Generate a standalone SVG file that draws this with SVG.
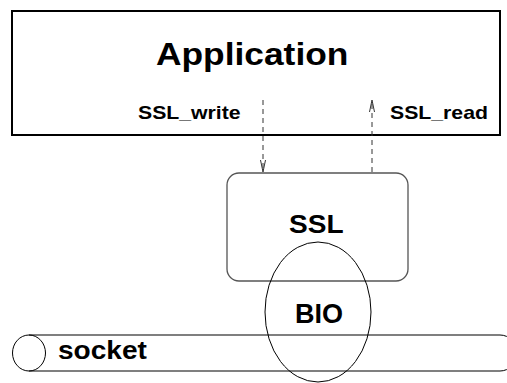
<svg xmlns="http://www.w3.org/2000/svg" width="507" height="383" viewBox="0 0 507 383">
  <defs>
    <style>
      text { font-family: "Liberation Sans", Arial, sans-serif; font-weight: bold; fill: #000; }
      .box { fill: none; stroke: #000; stroke-width: 2; }
      .thin { fill: none; stroke: #555; stroke-width: 1.3; }
      .outline { fill: none; stroke: #000; stroke-width: 1; }
      .flow { fill: none; stroke: #333; stroke-width: 1; stroke-dasharray: 5 4; }
      .head { fill: none; stroke: #333; stroke-width: 1; }
    </style>
  </defs>

  <!-- Application layer -->
  <g id="application">
    <rect class="box" x="12" y="11" width="488" height="124"/>
    <text transform="translate(156 65) scale(1.14 1)" font-size="31">Application</text>
    <text transform="translate(138 119) scale(1.18 1)" font-size="18">SSL_write</text>
    <text transform="translate(390 119) scale(1.18 1)" font-size="18">SSL_read</text>
  </g>

  <!-- SSL layer -->
  <g id="ssl">
    <rect class="thin" x="227" y="173" width="181" height="108" rx="12" ry="12"/>
    <text transform="translate(289 233) scale(1.1 1)" font-size="25.5">SSL</text>
  </g>

  <!-- socket pipe -->
  <g id="socket">
    <line class="thin" x1="29" y1="335" x2="500" y2="335"/>
    <line class="thin" x1="29" y1="371" x2="500" y2="371"/>
    <path class="outline" d="M500 335 A17 18 0 0 1 500 371"/>
    <ellipse class="outline" cx="29" cy="353" rx="16.5" ry="18" fill="#fff"/>
    <text transform="translate(58 359) scale(1.08 1)" font-size="26">socket</text>
  </g>

  <!-- BIO -->
  <g id="bio">
    <ellipse class="outline" cx="318" cy="312" rx="53" ry="70"/>
    <text transform="translate(295 323) scale(1.0 1)" font-size="27">BIO</text>
  </g>

  <!-- data flow -->
  <g id="connectors">
    <line class="flow" x1="263" y1="100" x2="263" y2="171"/>
    <path class="head" d="M260.5 160 L263 172 L265.5 160"/>
    <line class="flow" x1="372" y1="172" x2="372" y2="102"/>
    <path class="head" d="M369.5 112 L372 100 L374.5 112"/>
  </g>
</svg>
